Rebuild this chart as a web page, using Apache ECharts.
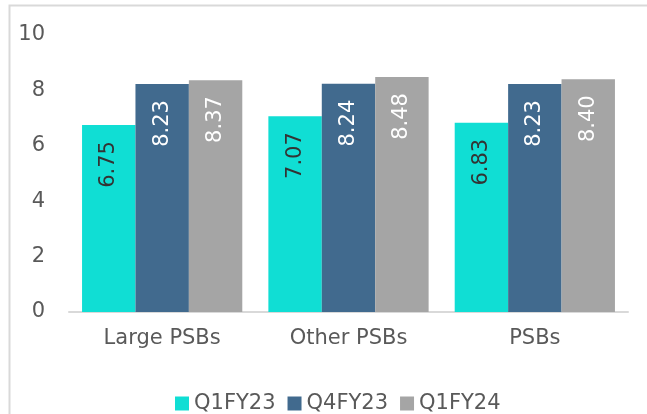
<!DOCTYPE html>
<html>
    <head>
        <meta charset="utf-8">
    </head>
    <body style="margin:0;overflow:hidden">
        <div id="main" style="width:647px;height:414px"></div>
        <script src="https://cdn.jsdelivr.net/npm/echarts@6/dist/echarts.min.js"></script>
        <script type="text/javascript">
            var categories = ['Large PSBs', 'Other PSBs', 'PSBs']
            var seriesNames = ['Q1FY23', 'Q4FY23', 'Q1FY24']
            var q1fy23 = [6.75, 7.07, 6.83]
            var q4fy23 = [8.23, 8.24, 8.23]
            var q1fy24 = [8.37, 8.48, 8.40]
            var yTicks = [0, 2, 4, 6, 8, 10]

            var colors = ['#10DED4', '#416A8E', '#A5A5A5']
            var labelColors = ['#333333', '#ffffff', '#ffffff']
            var font = 'DejaVu Sans'

            function makeSeries(i, data) {
                return {
                    name: seriesNames[i],
                    type: 'bar',
                    data: data,
                    barGap: '0%',
                    barCategoryGap: '14%',
                    itemStyle: { color: colors[i] },
                    label: {
                        show: true,
                        position: 'insideTop',
                        rotate: 90,
                        align: 'right',
                        verticalAlign: 'middle',
                        distance: 16,
                        fontFamily: font,
                        fontSize: 21,
                        color: labelColors[i],
                        formatter: function (p) { return p.value.toFixed(2) }
                    }
                }
            }

            var option = {
                animation: false,
                backgroundColor: '#ffffff',
                grid: { left: 69, right: 19, top: 35, bottom: 102 },
                legend: {
                    data: seriesNames,
                    left: 170,
                    top: 388,
                    icon: 'rect',
                    itemWidth: 14,
                    itemHeight: 14,
                    itemGap: 12,
                    textStyle: { fontFamily: font, fontSize: 21, color: '#595959' }
                },
                xAxis: {
                    type: 'category',
                    data: categories,
                    axisTick: { show: false },
                    axisLine: { lineStyle: { color: '#d9d9d9', width: 2 } },
                    axisLabel: { fontFamily: font, fontSize: 21, color: '#595959', margin: 16 }
                },
                yAxis: {
                    type: 'value',
                    min: yTicks[0],
                    max: yTicks[yTicks.length - 1],
                    interval: 2,
                    splitLine: { show: false },
                    axisLine: { show: false },
                    axisTick: { show: false },
                    axisLabel: { fontFamily: font, fontSize: 21, color: '#595959', margin: 24 }
                },
                graphic: [{
                    type: 'polyline',
                    shape: { points: [[9.5, 414], [9.5, 5.5], [647, 5.5]] },
                    style: { fill: null, stroke: '#d9d9d9', lineWidth: 2 },
                    silent: true
                }],
                series: [makeSeries(0, q1fy23), makeSeries(1, q4fy23), makeSeries(2, q1fy24)]
            }

            var mycharts = echarts.init(document.getElementById('main'))
            mycharts.setOption(option)
        </script>
    </body>
</html>
